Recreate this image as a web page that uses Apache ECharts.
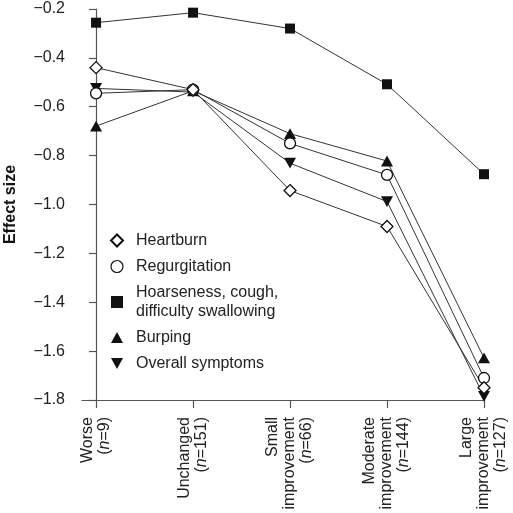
<!DOCTYPE html>
<html><head><meta charset="utf-8">
<script src="https://cdn.jsdelivr.net/npm/echarts@6/dist/echarts.min.js"></script>
<style>html,body{margin:0;padding:0;background:#fff}#c{width:513px;height:513px}</style>
</head><body><div id="c"></div>
<script>
const categories = ['Worse', 'Unchanged', 'Small\nimprovement', 'Moderate\nimprovement', 'Large\nimprovement'];
const groupN = [9, 151, 66, 144, 127];
const heartburn = [-0.44, -0.53, -0.943, -1.09, -1.75];
const regurgitation = [-0.545, -0.53, -0.75, -0.879, -1.71];
const hoarseness = [-0.256, -0.215, -0.28, -0.508, -0.876];
const burping = [-0.679, -0.535, -0.71, -0.822, -1.628];
const overall = [-0.525, -0.54, -0.831, -0.988, -1.785];
const yTicks = [-1.8, -1.6, -1.4, -1.2, -1.0, -0.8, -0.6, -0.4, -0.2];

const FONT = '"Liberation Sans", Arial, Helvetica, sans-serif';
const downTri = 'path://M0,0 L10,0 L5,9 Z';
const upTri = 'path://M5,0 L10,9 L0,9 Z';

function mk(name, data, symbol, filled, size) {
  return {
    name, type: 'line',
    data: data.map((v, i) => [i, v]),
    symbol, symbolSize: size, symbolKeepAspect: true,
    lineStyle: { color: '#333', width: 1 },
    itemStyle: { color: filled ? '#111' : '#fff', borderColor: '#111', borderWidth: filled ? 0 : 1.3 },
    emphasis: { disabled: true },
    z: filled ? 3 : 4
  };
}

const chart = echarts.init(document.getElementById('c'), null, { renderer: 'canvas' });
chart.setOption({
  animation: false,
  textStyle: { fontFamily: FONT },
  grid: { left: 82, top: 9, right: 29, bottom: 113, containLabel: false, outerBoundsMode: 'none' },
  legend: {
    orient: 'vertical', left: 105, top: 226,
    itemWidth: 12, itemHeight: 12, itemGap: 7,
    selectedMode: false,
    textStyle: { fontFamily: FONT, fontSize: 16, color: '#222', lineHeight: 19, padding: [0, 0, 0, 8] },
    data: [
      { name: 'Heartburn', icon: 'diamond' },
      { name: 'Regurgitation', icon: 'circle', itemStyle: { borderWidth: 1.2 } },
      { name: 'Hoarseness, cough,\ndifficulty swallowing', icon: 'rect' },
      { name: 'Burping', icon: upTri },
      { name: 'Overall symptoms', icon: downTri }
    ]
  },
  xAxis: {
    type: 'value', min: -0.145, max: 4,
    axisLine: { show: true, lineStyle: { color: '#555', width: 1.2 } },
    splitLine: { show: false },
    axisTick: { show: true, customValues: [0, 1, 2, 3, 4], length: 8, lineStyle: { color: '#555', width: 1.2 } },
    axisLabel: {
      customValues: [0, 1, 2, 3, 4], rotate: 90, margin: 17, hideOverlap: false,
      fontFamily: FONT, fontSize: 16, color: '#222', lineHeight: 17,
      formatter: v => categories[v] + '\n({i|n}=' + groupN[v] + ')',
      rich: { i: { fontStyle: 'italic', fontFamily: FONT, fontSize: 16, color: '#222', lineHeight: 17 } }
    }
  },
  yAxis: {
    type: 'value', min: -1.8, max: -0.2, interval: 0.2,
    name: 'Effect size', nameLocation: 'middle', nameGap: 63, nameRotate: 90,
    nameTextStyle: { fontFamily: FONT, fontSize: 16, fontWeight: 'bold', color: '#111' },
    axisLine: { show: true, lineStyle: { color: '#555', width: 1.2 } },
    axisTick: { show: true, length: 7, lineStyle: { color: '#555', width: 1.2 } },
    splitLine: { show: false },
    axisLabel: {
      margin: 17, fontFamily: FONT, fontSize: 16, color: '#222',
      customValues: yTicks,
      formatter: v => v.toFixed(1).replace('-', '\u2212')
    }
  },
  series: [
    mk('Hoarseness, cough,\ndifficulty swallowing', hoarseness, 'rect', true, 10),
    mk('Burping', burping, upTri, true, 12),
    mk('Overall symptoms', overall, downTri, true, 12),
    mk('Regurgitation', regurgitation, 'circle', false, 11),
    mk('Heartburn', heartburn, 'diamond', false, 12)
  ]
});
</script></body></html>
